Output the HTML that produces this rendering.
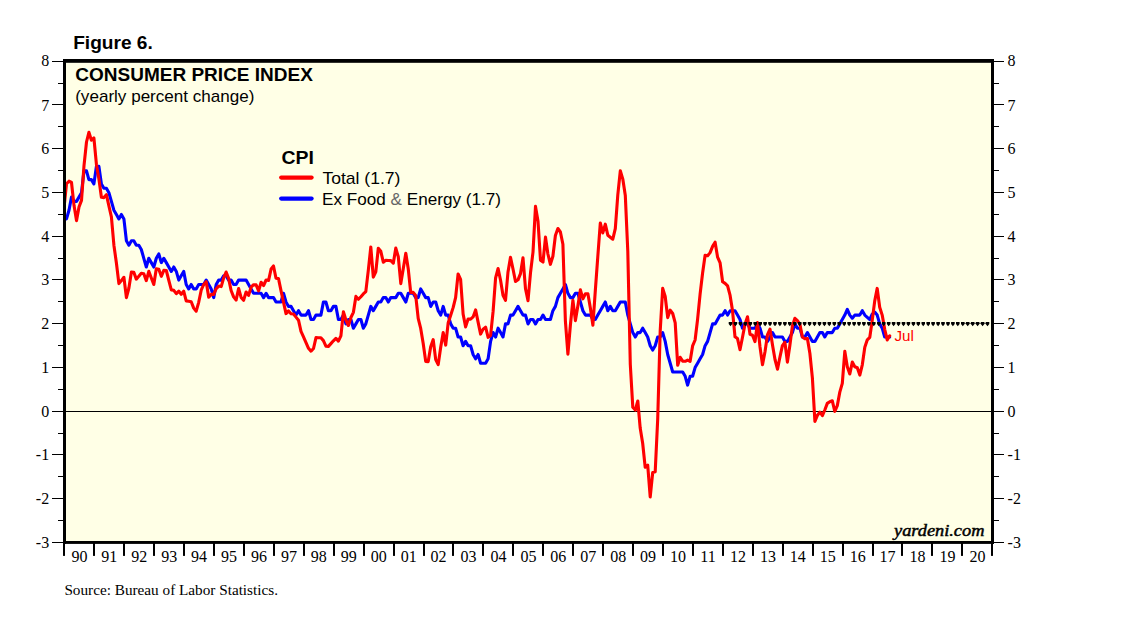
<!DOCTYPE html>
<html><head><meta charset="utf-8"><title>Figure 6. Consumer Price Index</title>
<style>html,body{margin:0;padding:0;background:#fff;}body{width:1138px;height:621px;overflow:hidden;font-family:"Liberation Sans",sans-serif;}svg{display:block;position:absolute;left:0;top:0;}.ser{font-family:"Liberation Serif",serif;font-size:16px;fill:#000;}.san{font-family:"Liberation Sans",sans-serif;fill:#000;}</style></head><body>
<svg width="1138" height="621" viewBox="0 0 1138 621">
<rect x="0" y="0" width="1138" height="621" fill="#ffffff"/>
<rect x="64.5" y="61" width="928" height="481.5" fill="#FFFFE6"/>
<defs><clipPath id="cp"><rect x="64.5" y="61" width="928" height="481.5"/></clipPath></defs>
<rect x="64" y="411" width="928" height="1" fill="#000"/>
<g clip-path="url(#cp)" fill="none" stroke-linejoin="round" stroke-linecap="round">
<path d="M64.0,218.9 L66.5,218.9 L69.0,210.2 L71.5,197.1 L74.0,201.4 L76.5,201.4 L79.0,197.1 L81.5,192.7 L84.0,170.8 L86.5,170.8 L88.9,179.6 L91.4,179.6 L93.9,183.9 L96.4,166.4 L98.9,166.4 L101.4,183.9 L103.9,188.3 L106.4,188.3 L108.9,192.7 L111.4,201.4 L113.9,210.2 L116.4,214.5 L118.9,218.9 L121.4,214.5 L123.9,218.9 L126.4,240.8 L128.9,245.2 L131.4,240.8 L133.8,240.8 L136.3,245.2 L138.8,245.2 L141.3,249.5 L143.8,258.3 L146.3,267.0 L148.8,258.3 L151.3,262.6 L153.8,267.0 L156.3,258.3 L158.8,253.9 L161.3,262.6 L163.8,258.3 L166.3,262.6 L168.8,267.0 L171.3,271.4 L173.8,267.0 L176.3,271.4 L178.8,280.1 L181.2,275.8 L183.7,271.4 L186.2,284.5 L188.7,288.9 L191.2,284.5 L193.7,288.9 L196.2,288.9 L198.7,284.5 L201.2,284.5 L203.7,284.5 L206.2,280.1 L208.7,284.5 L211.2,288.9 L213.7,297.6 L216.2,284.5 L218.7,280.1 L221.2,280.1 L223.7,275.8 L226.1,275.8 L228.6,280.1 L231.1,280.1 L233.6,284.5 L236.1,284.5 L238.6,280.1 L241.1,280.1 L243.6,280.1 L246.1,280.1 L248.6,284.5 L251.1,288.9 L253.6,293.3 L256.1,293.3 L258.6,293.3 L261.1,293.3 L263.6,297.6 L266.1,293.3 L268.6,297.6 L271.1,297.6 L273.5,297.6 L276.0,302.0 L278.5,302.0 L281.0,302.0 L283.5,293.3 L286.0,302.0 L288.5,306.4 L291.0,306.4 L293.5,310.7 L296.0,315.1 L298.5,310.7 L301.0,315.1 L303.5,315.1 L306.0,315.1 L308.5,310.7 L311.0,319.5 L313.5,319.5 L316.0,315.1 L318.4,315.1 L320.9,315.1 L323.4,302.0 L325.9,302.0 L328.4,310.7 L330.9,310.7 L333.4,306.4 L335.9,306.4 L338.4,319.5 L340.9,319.5 L343.4,315.1 L345.9,323.9 L348.4,319.5 L350.9,319.5 L353.4,328.2 L355.9,323.9 L358.4,319.5 L360.9,319.5 L363.3,328.2 L365.8,323.9 L368.3,315.1 L370.8,306.4 L373.3,310.7 L375.8,306.4 L378.3,302.0 L380.8,302.0 L383.3,297.6 L385.8,297.6 L388.3,302.0 L390.8,297.6 L393.3,297.6 L395.8,297.6 L398.3,293.3 L400.8,293.3 L403.3,297.6 L405.8,302.0 L408.3,293.3 L410.7,293.3 L413.2,293.3 L415.7,297.6 L418.2,297.6 L420.7,288.9 L423.2,293.3 L425.7,297.6 L428.2,297.6 L430.7,306.4 L433.2,302.0 L435.7,302.0 L438.2,310.7 L440.7,315.1 L443.2,306.4 L445.7,315.1 L448.2,315.1 L450.7,323.9 L453.2,328.2 L455.6,328.2 L458.1,337.0 L460.6,337.0 L463.1,345.7 L465.6,341.4 L468.1,345.7 L470.6,345.7 L473.1,354.5 L475.6,358.8 L478.1,354.5 L480.6,363.2 L483.1,363.2 L485.6,363.2 L488.1,358.8 L490.6,341.4 L493.1,332.6 L495.6,337.0 L498.1,328.2 L500.6,332.6 L503.0,337.0 L505.5,323.9 L508.0,323.9 L510.5,315.1 L513.0,315.1 L515.5,310.7 L518.0,306.4 L520.5,310.7 L523.0,315.1 L525.5,315.1 L528.0,323.9 L530.5,319.5 L533.0,319.5 L535.5,323.9 L538.0,319.5 L540.5,319.5 L543.0,315.1 L545.5,319.5 L547.9,319.5 L550.4,319.5 L552.9,310.7 L555.4,306.4 L557.9,297.6 L560.4,293.3 L562.9,288.9 L565.4,284.5 L567.9,293.3 L570.4,297.6 L572.9,297.6 L575.4,293.3 L577.9,293.3 L580.4,302.0 L582.9,310.7 L585.4,315.1 L587.9,315.1 L590.4,315.1 L592.9,319.5 L595.3,319.5 L597.8,315.1 L600.3,310.7 L602.8,306.4 L605.3,302.0 L607.8,310.7 L610.3,306.4 L612.8,310.7 L615.3,310.7 L617.8,306.4 L620.3,302.0 L622.8,302.0 L625.3,302.0 L627.8,315.1 L630.3,323.9 L632.8,332.6 L635.3,337.0 L637.8,332.6 L640.2,332.6 L642.7,328.2 L645.2,332.6 L647.7,337.0 L650.2,345.7 L652.7,350.1 L655.2,345.7 L657.7,337.0 L660.2,337.0 L662.7,332.6 L665.2,341.4 L667.7,354.5 L670.2,363.2 L672.7,372.0 L675.2,372.0 L677.7,372.0 L680.2,372.0 L682.7,372.0 L685.2,376.3 L687.6,385.1 L690.1,376.3 L692.6,376.3 L695.1,367.6 L697.6,363.2 L700.1,358.8 L702.6,354.5 L705.1,345.7 L707.6,341.4 L710.1,332.6 L712.6,323.9 L715.1,323.9 L717.6,319.5 L720.1,315.1 L722.6,315.1 L725.1,310.7 L727.6,315.1 L730.1,310.7 L732.5,310.7 L735.0,310.7 L737.5,315.1 L740.0,319.5 L742.5,328.2 L745.0,323.9 L747.5,323.9 L750.0,328.2 L752.5,328.2 L755.0,328.2 L757.5,323.9 L760.0,328.2 L762.5,337.0 L765.0,337.0 L767.5,341.4 L770.0,337.0 L772.5,332.6 L775.0,337.0 L777.5,337.0 L779.9,337.0 L782.4,337.0 L784.9,341.4 L787.4,341.4 L789.9,337.0 L792.4,332.6 L794.9,323.9 L797.4,328.2 L799.9,328.2 L802.4,337.0 L804.9,337.0 L807.4,332.6 L809.9,337.0 L812.4,341.4 L814.9,341.4 L817.4,337.0 L819.9,332.6 L822.4,332.6 L824.8,337.0 L827.3,332.6 L829.8,332.6 L832.3,332.6 L834.8,328.2 L837.3,328.2 L839.8,323.9 L842.3,319.5 L844.8,315.1 L847.3,309.4 L849.8,315.1 L852.3,318.2 L854.8,315.1 L857.3,315.1 L859.8,315.1 L862.3,310.7 L864.8,315.1 L867.3,317.3 L869.8,319.5 L872.2,314.2 L874.7,312.1 L877.2,315.1 L879.7,323.9 L882.2,328.2 L884.7,337.0 L887.2,337.0 L889.7,337.0" stroke="#0000FF" stroke-width="3.1"/>
<path d="M64.0,208.1 L66.5,183.8 L69.0,181.2 L71.5,182.5 L74.0,205.3 L76.5,220.6 L79.0,207.0 L81.5,200.4 L84.0,165.7 L86.5,142.0 L88.9,132.3 L91.4,140.2 L93.9,138.0 L96.4,164.2 L98.9,179.0 L101.4,197.3 L103.9,197.6 L106.4,194.7 L108.9,206.0 L111.4,216.8 L113.9,245.2 L116.4,263.0 L118.9,283.6 L121.4,280.6 L123.9,277.3 L126.4,297.6 L128.9,288.0 L131.4,272.0 L133.8,272.2 L136.3,279.1 L138.8,276.3 L141.3,273.3 L143.8,273.7 L146.3,280.6 L148.8,271.3 L151.3,278.0 L153.8,284.5 L156.3,268.8 L158.8,269.3 L161.3,276.3 L163.8,270.3 L166.3,270.5 L168.8,280.3 L171.3,289.9 L173.8,290.3 L176.3,293.7 L178.8,291.1 L181.2,294.3 L183.7,291.1 L186.2,300.9 L188.7,301.3 L191.2,301.7 L193.7,308.1 L196.2,311.2 L198.7,302.3 L201.2,290.2 L203.7,284.5 L206.2,281.7 L208.7,297.3 L211.2,294.4 L213.7,294.4 L216.2,288.7 L218.7,286.1 L221.2,286.6 L223.7,277.8 L226.1,272.0 L228.6,278.4 L231.1,290.5 L233.6,296.9 L236.1,300.1 L238.6,288.5 L241.1,297.4 L243.6,300.3 L246.1,292.0 L248.6,295.4 L251.1,287.1 L253.6,284.7 L256.1,284.9 L258.6,290.9 L261.1,282.3 L263.6,285.5 L266.1,280.0 L268.6,280.4 L271.1,269.0 L273.5,266.0 L276.0,278.2 L278.5,278.6 L281.0,290.6 L283.5,302.2 L286.0,313.6 L288.5,310.9 L291.0,313.8 L293.5,314.0 L296.0,317.1 L298.5,320.2 L301.0,331.4 L303.5,336.9 L306.0,342.6 L308.5,348.3 L311.0,351.2 L313.5,348.5 L316.0,337.6 L318.4,337.7 L320.9,337.8 L323.4,340.6 L325.9,346.2 L328.4,346.4 L330.9,343.6 L333.4,340.8 L335.9,338.3 L338.4,341.1 L340.9,335.8 L343.4,311.8 L345.9,320.0 L348.4,325.5 L350.9,317.5 L353.4,312.3 L355.9,296.4 L358.4,299.3 L360.9,296.7 L363.3,293.9 L365.8,291.6 L368.3,270.4 L370.8,247.0 L373.3,277.1 L375.8,271.9 L378.3,248.2 L380.8,251.3 L383.3,262.2 L385.8,260.3 L388.3,260.5 L390.8,260.6 L393.3,263.2 L395.8,248.1 L398.3,256.8 L400.8,283.6 L403.3,268.4 L405.8,253.2 L408.3,269.3 L410.7,292.4 L413.2,292.4 L415.7,295.5 L418.2,318.3 L420.7,328.4 L423.2,343.5 L425.7,361.4 L428.2,361.6 L430.7,346.8 L433.2,339.6 L435.7,359.6 L438.2,364.6 L440.7,347.3 L443.2,332.5 L445.7,345.1 L448.2,322.7 L450.7,315.2 L453.2,307.4 L455.6,297.7 L458.1,274.0 L460.6,279.3 L463.1,314.0 L465.6,326.9 L468.1,319.0 L470.6,319.1 L473.1,316.9 L475.6,309.9 L478.1,322.1 L480.6,334.1 L483.1,329.1 L485.6,327.1 L488.1,337.3 L490.6,335.4 L493.1,311.4 L495.6,277.9 L498.1,268.5 L500.6,280.5 L503.0,295.2 L505.5,300.3 L508.0,271.9 L510.5,257.3 L513.0,269.0 L515.5,281.5 L518.0,279.8 L520.5,273.6 L523.0,257.8 L525.5,288.8 L528.0,300.7 L530.5,272.8 L533.0,252.1 L535.5,206.4 L538.0,221.2 L540.5,260.2 L543.0,262.0 L545.5,237.1 L547.9,254.0 L550.4,264.3 L552.9,256.3 L555.4,235.5 L557.9,228.5 L560.4,232.0 L562.9,244.3 L565.4,321.1 L567.9,354.2 L570.4,325.0 L572.9,300.2 L575.4,320.6 L577.9,305.7 L580.4,289.8 L582.9,298.8 L585.4,293.7 L587.9,293.8 L590.4,308.2 L592.9,325.2 L595.3,290.8 L597.8,256.7 L600.3,223.0 L602.8,232.9 L605.3,224.2 L607.8,235.2 L610.3,237.2 L612.8,239.2 L615.3,228.7 L617.8,194.9 L620.3,170.8 L622.8,179.1 L625.3,195.4 L627.8,251.5 L630.3,364.5 L632.8,407.3 L635.3,410.0 L637.8,401.0 L640.2,428.1 L642.7,443.5 L645.2,467.3 L647.7,465.1 L650.2,497.0 L652.7,472.5 L655.2,471.7 L657.7,419.3 L660.2,330.9 L662.7,288.4 L665.2,296.5 L667.7,317.6 L670.2,310.1 L672.7,313.5 L675.2,322.9 L677.7,365.3 L680.2,357.3 L682.7,361.1 L685.2,361.3 L687.6,360.1 L690.1,361.3 L692.6,345.9 L695.1,340.0 L697.6,319.2 L700.1,294.1 L702.6,273.0 L705.1,255.3 L707.6,255.7 L710.1,252.6 L712.6,246.4 L715.1,242.2 L717.6,257.2 L720.1,262.9 L722.6,281.8 L725.1,283.4 L727.6,285.8 L730.1,295.4 L732.5,310.6 L735.0,336.8 L737.5,338.6 L740.0,349.7 L742.5,337.3 L745.0,324.2 L747.5,316.8 L750.0,334.2 L752.5,335.2 L755.0,341.6 L757.5,322.6 L760.0,346.9 L762.5,364.8 L765.0,351.8 L767.5,334.6 L770.0,329.1 L772.5,344.9 L775.0,359.5 L777.5,369.2 L779.9,357.2 L782.4,345.6 L784.9,342.3 L787.4,362.1 L789.9,345.2 L792.4,325.9 L794.9,318.3 L797.4,320.7 L799.9,324.2 L802.4,337.0 L804.9,338.8 L807.4,338.5 L809.9,353.5 L812.4,378.2 L814.9,421.4 L817.4,415.3 L819.9,412.2 L822.4,415.7 L824.8,410.0 L827.3,403.4 L829.8,401.7 L832.3,400.8 L834.8,411.3 L837.3,405.6 L839.8,392.1 L842.3,383.3 L844.8,351.3 L847.3,366.8 L849.8,374.0 L852.3,362.1 L854.8,366.7 L857.3,367.7 L859.8,375.1 L862.3,364.8 L864.8,347.3 L867.3,339.8 L869.8,337.3 L872.2,320.6 L874.7,301.1 L877.2,288.4 L879.7,307.2 L882.2,315.1 L884.7,329.3 L887.2,339.9 L889.7,335.8" stroke="#FF0000" stroke-width="3.1"/>
</g>
<rect x="962" y="323.2" width="26" height="0.8" fill="#000" opacity="0.6"/>
<path fill="#000" d="M728.7,321.9 L732.3,321.9 L732.3,324.0 L730.5,326.2 L728.7,324.0 Z M733.6,321.9 L737.2,321.9 L737.2,324.0 L735.4,326.2 L733.6,324.0 Z M738.6,321.9 L742.2,321.9 L742.2,324.0 L740.4,326.2 L738.6,324.0 Z M743.5,321.9 L747.1,321.9 L747.1,324.0 L745.3,326.2 L743.5,324.0 Z M748.5,321.9 L752.1,321.9 L752.1,324.0 L750.3,326.2 L748.5,324.0 Z M753.4,321.9 L757.0,321.9 L757.0,324.0 L755.2,326.2 L753.4,324.0 Z M758.4,321.9 L762.0,321.9 L762.0,324.0 L760.2,326.2 L758.4,324.0 Z M763.3,321.9 L766.9,321.9 L766.9,324.0 L765.1,326.2 L763.3,324.0 Z M768.2,321.9 L771.8,321.9 L771.8,324.0 L770.0,326.2 L768.2,324.0 Z M773.2,321.9 L776.8,321.9 L776.8,324.0 L775.0,326.2 L773.2,324.0 Z M778.1,321.9 L781.7,321.9 L781.7,324.0 L779.9,326.2 L778.1,324.0 Z M783.1,321.9 L786.7,321.9 L786.7,324.0 L784.9,326.2 L783.1,324.0 Z M788.0,321.9 L791.6,321.9 L791.6,324.0 L789.8,326.2 L788.0,324.0 Z M793.0,321.9 L796.5,321.9 L796.5,324.0 L794.8,326.2 L793.0,324.0 Z M797.9,321.9 L801.5,321.9 L801.5,324.0 L799.7,326.2 L797.9,324.0 Z M802.8,321.9 L806.4,321.9 L806.4,324.0 L804.6,326.2 L802.8,324.0 Z M807.8,321.9 L811.4,321.9 L811.4,324.0 L809.6,326.2 L807.8,324.0 Z M812.7,321.9 L816.3,321.9 L816.3,324.0 L814.5,326.2 L812.7,324.0 Z M817.7,321.9 L821.3,321.9 L821.3,324.0 L819.5,326.2 L817.7,324.0 Z M822.6,321.9 L826.2,321.9 L826.2,324.0 L824.4,326.2 L822.6,324.0 Z M827.5,321.9 L831.1,321.9 L831.1,324.0 L829.3,326.2 L827.5,324.0 Z M832.5,321.9 L836.1,321.9 L836.1,324.0 L834.3,326.2 L832.5,324.0 Z M837.4,321.9 L841.0,321.9 L841.0,324.0 L839.2,326.2 L837.4,324.0 Z M842.4,321.9 L846.0,321.9 L846.0,324.0 L844.2,326.2 L842.4,324.0 Z M847.3,321.9 L850.9,321.9 L850.9,324.0 L849.1,326.2 L847.3,324.0 Z M852.3,321.9 L855.9,321.9 L855.9,324.0 L854.1,326.2 L852.3,324.0 Z M857.2,321.9 L860.8,321.9 L860.8,324.0 L859.0,326.2 L857.2,324.0 Z M862.1,321.9 L865.7,321.9 L865.7,324.0 L863.9,326.2 L862.1,324.0 Z M867.1,321.9 L870.7,321.9 L870.7,324.0 L868.9,326.2 L867.1,324.0 Z M872.0,321.9 L875.6,321.9 L875.6,324.0 L873.8,326.2 L872.0,324.0 Z M877.0,321.9 L880.6,321.9 L880.6,324.0 L878.8,326.2 L877.0,324.0 Z M881.9,321.9 L885.5,321.9 L885.5,324.0 L883.7,326.2 L881.9,324.0 Z M886.9,321.9 L890.5,321.9 L890.5,324.0 L888.7,326.2 L886.9,324.0 Z M891.8,321.9 L895.4,321.9 L895.4,324.0 L893.6,326.2 L891.8,324.0 Z M896.7,321.9 L900.3,321.9 L900.3,324.0 L898.5,326.2 L896.7,324.0 Z M901.7,321.9 L905.3,321.9 L905.3,324.0 L903.5,326.2 L901.7,324.0 Z M906.6,321.9 L910.2,321.9 L910.2,324.0 L908.4,326.2 L906.6,324.0 Z M911.6,321.9 L915.2,321.9 L915.2,324.0 L913.4,326.2 L911.6,324.0 Z M916.5,321.9 L920.1,321.9 L920.1,324.0 L918.3,326.2 L916.5,324.0 Z M921.5,321.9 L925.0,321.9 L925.0,324.0 L923.2,326.2 L921.5,324.0 Z M926.4,321.9 L930.0,321.9 L930.0,324.0 L928.2,326.2 L926.4,324.0 Z M931.3,321.9 L934.9,321.9 L934.9,324.0 L933.1,326.2 L931.3,324.0 Z M936.3,321.9 L939.9,321.9 L939.9,324.0 L938.1,326.2 L936.3,324.0 Z M941.2,321.9 L944.8,321.9 L944.8,324.0 L943.0,326.2 L941.2,324.0 Z M946.2,321.9 L949.8,321.9 L949.8,324.0 L948.0,326.2 L946.2,324.0 Z M951.1,321.9 L954.7,321.9 L954.7,324.0 L952.9,326.2 L951.1,324.0 Z M956.0,321.9 L959.6,321.9 L959.6,324.0 L957.8,326.2 L956.0,324.0 Z M961.0,321.9 L964.6,321.9 L964.6,324.0 L962.8,326.2 L961.0,324.0 Z M965.9,321.9 L969.5,321.9 L969.5,324.0 L967.7,326.2 L965.9,324.0 Z M970.9,321.9 L974.5,321.9 L974.5,324.0 L972.7,326.2 L970.9,324.0 Z M975.8,321.9 L979.4,321.9 L979.4,324.0 L977.6,326.2 L975.8,324.0 Z M980.8,321.9 L984.4,321.9 L984.4,324.0 L982.6,326.2 L980.8,324.0 Z M985.7,321.9 L989.3,321.9 L989.3,324.0 L987.5,326.2 L985.7,324.0 Z"/>
<g fill="#000"><rect x="63" y="59" width="931" height="3.8"/><rect x="63" y="541" width="931" height="2.9"/><rect x="63" y="59.3" width="3" height="484.6"/><rect x="991" y="59.3" width="3" height="484.6"/></g>
<g fill="#000"><rect x="52" y="61" width="11.5" height="1"/><rect x="993.5" y="61" width="10.5" height="1"/><rect x="58" y="83" width="5.5" height="1"/><rect x="993.5" y="83" width="5.5" height="1"/><rect x="52" y="104" width="11.5" height="1"/><rect x="993.5" y="104" width="10.5" height="1"/><rect x="58" y="126" width="5.5" height="1"/><rect x="993.5" y="126" width="5.5" height="1"/><rect x="52" y="148" width="11.5" height="1"/><rect x="993.5" y="148" width="10.5" height="1"/><rect x="58" y="170" width="5.5" height="1"/><rect x="993.5" y="170" width="5.5" height="1"/><rect x="52" y="192" width="11.5" height="1"/><rect x="993.5" y="192" width="10.5" height="1"/><rect x="58" y="214" width="5.5" height="1"/><rect x="993.5" y="214" width="5.5" height="1"/><rect x="52" y="236" width="11.5" height="1"/><rect x="993.5" y="236" width="10.5" height="1"/><rect x="58" y="258" width="5.5" height="1"/><rect x="993.5" y="258" width="5.5" height="1"/><rect x="52" y="279" width="11.5" height="1"/><rect x="993.5" y="279" width="10.5" height="1"/><rect x="58" y="301" width="5.5" height="1"/><rect x="993.5" y="301" width="5.5" height="1"/><rect x="52" y="323" width="11.5" height="1"/><rect x="993.5" y="323" width="10.5" height="1"/><rect x="58" y="345" width="5.5" height="1"/><rect x="993.5" y="345" width="5.5" height="1"/><rect x="52" y="367" width="11.5" height="1"/><rect x="993.5" y="367" width="10.5" height="1"/><rect x="58" y="389" width="5.5" height="1"/><rect x="993.5" y="389" width="5.5" height="1"/><rect x="52" y="411" width="11.5" height="1"/><rect x="993.5" y="411" width="10.5" height="1"/><rect x="58" y="433" width="5.5" height="1"/><rect x="993.5" y="433" width="5.5" height="1"/><rect x="52" y="454" width="11.5" height="1"/><rect x="993.5" y="454" width="10.5" height="1"/><rect x="58" y="476" width="5.5" height="1"/><rect x="993.5" y="476" width="5.5" height="1"/><rect x="52" y="498" width="11.5" height="1"/><rect x="993.5" y="498" width="10.5" height="1"/><rect x="58" y="520" width="5.5" height="1"/><rect x="993.5" y="520" width="5.5" height="1"/><rect x="52" y="542" width="11.5" height="1"/><rect x="993.5" y="542" width="10.5" height="1"/></g>
<text class="ser" x="49.2" y="66.0" text-anchor="end">8</text><text class="ser" x="1007.6" y="66.0">8</text><text class="ser" x="49.2" y="110.5" text-anchor="end">7</text><text class="ser" x="1007.6" y="110.5">7</text><text class="ser" x="49.2" y="154.3" text-anchor="end">6</text><text class="ser" x="1007.6" y="154.3">6</text><text class="ser" x="49.2" y="198.0" text-anchor="end">5</text><text class="ser" x="1007.6" y="198.0">5</text><text class="ser" x="49.2" y="241.7" text-anchor="end">4</text><text class="ser" x="1007.6" y="241.7">4</text><text class="ser" x="49.2" y="285.4" text-anchor="end">3</text><text class="ser" x="1007.6" y="285.4">3</text><text class="ser" x="49.2" y="329.2" text-anchor="end">2</text><text class="ser" x="1007.6" y="329.2">2</text><text class="ser" x="49.2" y="372.9" text-anchor="end">1</text><text class="ser" x="1007.6" y="372.9">1</text><text class="ser" x="49.2" y="416.6" text-anchor="end">0</text><text class="ser" x="1007.6" y="416.6">0</text><text class="ser" x="49.2" y="460.3" text-anchor="end">-1</text><text class="ser" x="1007.6" y="460.3">-1</text><text class="ser" x="49.2" y="504.1" text-anchor="end">-2</text><text class="ser" x="1007.6" y="504.1">-2</text><text class="ser" x="49.2" y="547.8" text-anchor="end">-3</text><text class="ser" x="1007.6" y="547.8">-3</text>
<g fill="#000"><rect x="63" y="543" width="2" height="12.9"/><rect x="93" y="543" width="2" height="12.9"/><rect x="123" y="543" width="2" height="12.9"/><rect x="153" y="543" width="2" height="12.9"/><rect x="183" y="543" width="2" height="12.9"/><rect x="213" y="543" width="2" height="12.9"/><rect x="243" y="543" width="2" height="12.9"/><rect x="273" y="543" width="2" height="12.9"/><rect x="303" y="543" width="2" height="12.9"/><rect x="333" y="543" width="2" height="12.9"/><rect x="363" y="543" width="2" height="12.9"/><rect x="393" y="543" width="2" height="12.9"/><rect x="423" y="543" width="2" height="12.9"/><rect x="452" y="543" width="2" height="12.9"/><rect x="482" y="543" width="2" height="12.9"/><rect x="512" y="543" width="2" height="12.9"/><rect x="542" y="543" width="2" height="12.9"/><rect x="572" y="543" width="2" height="12.9"/><rect x="602" y="543" width="2" height="12.9"/><rect x="632" y="543" width="2" height="12.9"/><rect x="662" y="543" width="2" height="12.9"/><rect x="692" y="543" width="2" height="12.9"/><rect x="722" y="543" width="2" height="12.9"/><rect x="752" y="543" width="2" height="12.9"/><rect x="782" y="543" width="2" height="12.9"/><rect x="812" y="543" width="2" height="12.9"/><rect x="842" y="543" width="2" height="12.9"/><rect x="872" y="543" width="2" height="12.9"/><rect x="901" y="543" width="2" height="12.9"/><rect x="931" y="543" width="2" height="12.9"/><rect x="961" y="543" width="2" height="12.9"/><rect x="991" y="543" width="2" height="12.9"/></g>
<text class="ser" x="79.4" y="561.7" text-anchor="middle">90</text><text class="ser" x="109.3" y="561.7" text-anchor="middle">91</text><text class="ser" x="139.2" y="561.7" text-anchor="middle">92</text><text class="ser" x="169.2" y="561.7" text-anchor="middle">93</text><text class="ser" x="199.1" y="561.7" text-anchor="middle">94</text><text class="ser" x="229.0" y="561.7" text-anchor="middle">95</text><text class="ser" x="259.0" y="561.7" text-anchor="middle">96</text><text class="ser" x="288.9" y="561.7" text-anchor="middle">97</text><text class="ser" x="318.8" y="561.7" text-anchor="middle">98</text><text class="ser" x="348.8" y="561.7" text-anchor="middle">99</text><text class="ser" x="378.7" y="561.7" text-anchor="middle">00</text><text class="ser" x="408.7" y="561.7" text-anchor="middle">01</text><text class="ser" x="438.6" y="561.7" text-anchor="middle">02</text><text class="ser" x="468.5" y="561.7" text-anchor="middle">03</text><text class="ser" x="498.5" y="561.7" text-anchor="middle">04</text><text class="ser" x="528.4" y="561.7" text-anchor="middle">05</text><text class="ser" x="558.3" y="561.7" text-anchor="middle">06</text><text class="ser" x="588.3" y="561.7" text-anchor="middle">07</text><text class="ser" x="618.2" y="561.7" text-anchor="middle">08</text><text class="ser" x="648.1" y="561.7" text-anchor="middle">09</text><text class="ser" x="678.1" y="561.7" text-anchor="middle">10</text><text class="ser" x="708.0" y="561.7" text-anchor="middle">11</text><text class="ser" x="737.9" y="561.7" text-anchor="middle">12</text><text class="ser" x="767.9" y="561.7" text-anchor="middle">13</text><text class="ser" x="797.8" y="561.7" text-anchor="middle">14</text><text class="ser" x="827.7" y="561.7" text-anchor="middle">15</text><text class="ser" x="857.7" y="561.7" text-anchor="middle">16</text><text class="ser" x="887.6" y="561.7" text-anchor="middle">17</text><text class="ser" x="917.5" y="561.7" text-anchor="middle">18</text><text class="ser" x="947.5" y="561.7" text-anchor="middle">19</text><text class="ser" x="977.4" y="561.7" text-anchor="middle">20</text>
<text class="san" x="73.2" y="48.8" font-size="18" font-weight="bold" textLength="79.6" lengthAdjust="spacingAndGlyphs">Figure 6.</text>
<text class="san" x="75.3" y="81.3" font-size="17.6" font-weight="bold" textLength="237.6" lengthAdjust="spacingAndGlyphs">CONSUMER PRICE INDEX</text>
<text class="san" x="75.2" y="101.5" font-size="17" textLength="179.3" lengthAdjust="spacingAndGlyphs">(yearly percent change)</text>
<text class="san" x="281.4" y="163.9" font-size="17.6" font-weight="bold" textLength="32.4" lengthAdjust="spacingAndGlyphs">CPI</text>
<line x1="281.2" y1="177.6" x2="311.6" y2="177.6" stroke="#FF0000" stroke-width="4.2" stroke-linecap="round"/>
<line x1="281.2" y1="198.6" x2="311.6" y2="198.6" stroke="#0000FF" stroke-width="4.2" stroke-linecap="round"/>
<text class="san" x="322.4" y="183.6" font-size="17" textLength="78" lengthAdjust="spacingAndGlyphs">Total (1.7)</text>
<text class="san" x="322.0" y="205.2" font-size="17" textLength="179" lengthAdjust="spacingAndGlyphs">Ex Food <tspan fill="#666">&amp;</tspan> Energy (1.7)</text>
<text class="san" x="894.4" y="340.5" font-size="14.4" style="fill:#FF0000" textLength="19.4" lengthAdjust="spacingAndGlyphs">Jul</text>
<text x="894" y="535.7" font-family="'Liberation Serif',serif" font-size="16" font-style="italic" fill="#000" stroke="#000" stroke-width="0.45" textLength="90.4" lengthAdjust="spacingAndGlyphs">yardeni.com</text>
<text class="ser" x="64.4" y="595.3" font-size="15.3" textLength="213.6" lengthAdjust="spacingAndGlyphs" style="font-size:15.3px">Source: Bureau of Labor Statistics.</text>
</svg></body></html>
